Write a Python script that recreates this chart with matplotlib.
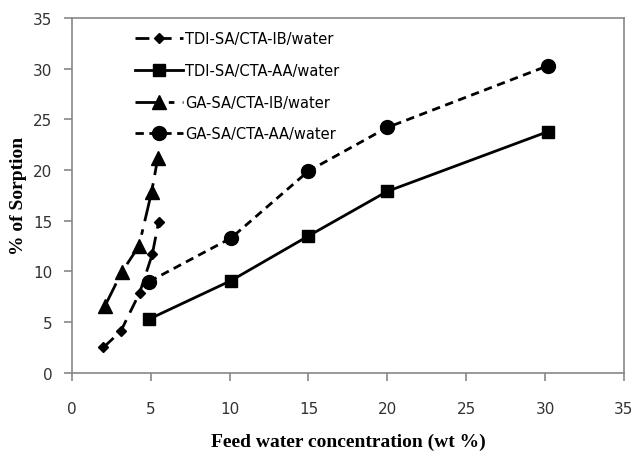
import matplotlib
matplotlib.use('Agg')
import matplotlib.pyplot as plt

# feed water concentration (wt %) vs % of sorption
tdi_ib_x = [2.0, 3.1, 4.3, 5.1, 5.5]
tdi_ib_y = [2.5, 4.1, 7.9, 11.7, 14.9]
tdi_aa_x = [4.9, 10.1, 15.0, 20.0, 30.2]
tdi_aa_y = [5.3, 9.1, 13.5, 17.9, 23.8]
ga_ib_x = [2.1, 3.15, 4.25, 5.05, 5.45]
ga_ib_y = [6.6, 9.9, 12.5, 17.8, 21.2]
ga_aa_x = [4.9, 10.1, 15.0, 20.0, 30.2]
ga_aa_y = [9.0, 13.3, 19.9, 24.2, 30.3]

fig = plt.figure(figsize=(6.36, 4.52), dpi=100)
ax = fig.add_axes([0.113, 0.173, 0.868, 0.785])

ax.plot(tdi_ib_x, tdi_ib_y, color='black', lw=2, dashes=(5, 3), marker='D', ms=5.5,
        label='TDI-SA/CTA-IB/water')
ax.plot(tdi_aa_x, tdi_aa_y, color='black', lw=2, ls='-', marker='s', ms=8,
        label='TDI-SA/CTA-AA/water')
ax.plot(ga_ib_x, ga_ib_y, color='black', lw=2, dashes=(9, 3, 2, 3), marker='^', ms=10,
        label='GA-SA/CTA-IB/water')
ax.plot(ga_aa_x, ga_aa_y, color='black', lw=2, dashes=(3, 2), marker='o', ms=10,
        label='GA-SA/CTA-AA/water')

ax.set_xlim(0, 35)
ax.set_ylim(0, 35)
ax.set_xticks(range(0, 36, 5))
ax.set_yticks(range(0, 36, 5))
for s in ax.spines.values():
    s.set_color('#888888')
    s.set_linewidth(1.2)
ax.tick_params(direction='out', length=6, width=1.2, color='#888888',
               labelsize=11, labelcolor='#333333', pad=8)
ax.tick_params(axis='x', pad=14)

ax.set_xlabel('Feed water concentration (wt %)', fontfamily='Liberation Serif',
              fontweight='bold', fontsize=14, labelpad=12)
ax.set_ylabel('% of Sorption', fontfamily='Liberation Serif',
              fontweight='bold', fontsize=14, labelpad=4)

ax.legend(loc='upper left', bbox_to_anchor=(0.09, 1.0), frameon=False, fontsize=10.5,
          handlelength=3.3, labelspacing=1.15, handletextpad=0.15)

fig.savefig('out.png', dpi=100)
